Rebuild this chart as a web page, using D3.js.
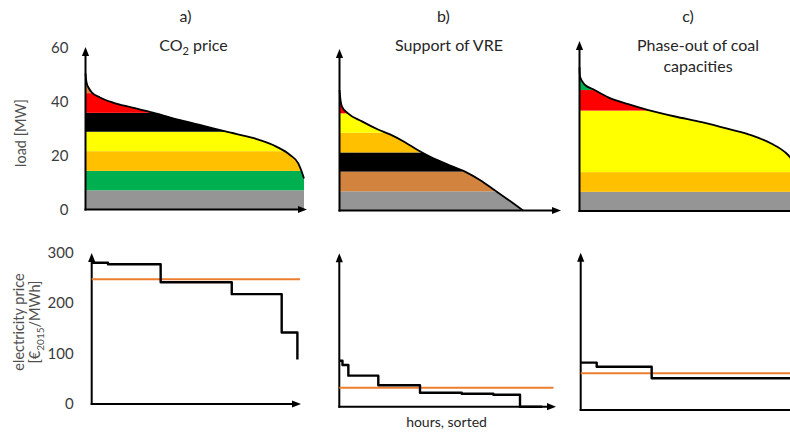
<!DOCTYPE html>
<html>
<head>
<meta charset="utf-8">
<script src="https://cdn.jsdelivr.net/npm/d3@7"></script>
<style>
  html, body { margin: 0; padding: 0; background: #fff; }
  svg { display: block; font-family: Lato, "Open Sans", sans-serif; }
</style>
</head>
<body>
<svg id="chart" width="790" height="432"></svg>
<script>
// ---------------------------------------------------------------
// Data
// ---------------------------------------------------------------

// Load duration curves: [hour of the year (sorted), load in MW]
const loadCO2 = [[0, 50.4], [40, 47.2], [130, 45], [260, 43.3], [580, 41.5], [1100, 39.6], [1800, 37.9],
  [2700, 35.9], [3800, 33.1], [4850, 30.7], [5650, 28.8], [6750, 26.4], [7650, 23.3],
  [8200, 20.2], [8530, 17.1], [8670, 14], [8760, 11.5]];
const loadVRE = [[0, 44.6], [40, 41], [100, 38.5], [340, 36], [900, 33], [1545, 30],
  [2025, 28.2], [2625, 25.3], [3150, 22.3], [3700, 19.6], [4300, 17.2], [5030, 14.4],
  [5630, 11.3], [6240, 7.4], [6840, 3.5], [7360, 0]];
const loadCoal = [[0, 53.2], [20, 49.7], [220, 46.7], [550, 45.1], [1155, 42.1], [1955, 39.6],
  [2760, 37.4], [3830, 35], [4900, 32.9], [5965, 30.4], [6905, 28], [7705, 24.9],
  [8240, 21.8], [8440, 19.9], [8620, 17], [8760, 13]];

// Merit-order stack: [technology, upper edge of its block in MW], bottom to top
const stackCO2 = [["nuclear", 7.1], ["biomass", 14.3], ["gasCC", 21.6], ["gasST", 28.8],
  ["hardCoal", 35.8], ["oil", 43.1], ["lignite", 60]];
const stackVRE = [["nuclear", 7.1], ["lignite", 14.4], ["hardCoal", 21.5], ["gasCC", 28.8],
  ["gasST", 36], ["oil", 60]];
const stackCoal = [["nuclear", 7.1], ["gasCC", 14.4], ["gasST", 37.2], ["oil", 44.8],
  ["biomass", 60]];

// Electricity price duration: [hour where the level starts, EUR2015/MWh]
const priceCO2 = [[0, 280], [685, 277], [2900, 241.5], [5890, 217.8], [7990, 141.9], [8650, 88]];
const priceVRE = [[0, 90], [130, 81.6], [370, 60.7], [1595, 41.9], [3300, 27.4],
  [5005, 25.4], [6300, 23.5], [7390, 0], [8300, 0]];
const priceCoal = [[0, 90.3], [655, 82.6], [2905, 60.5], [8760, 60.5]];

// Average price over the year (horizontal line)
const avgCO2 = 247.4;
const avgVRE = 37.2;
const avgCoal = 70;

const loadTicks = [0, 20, 40, 60];
const priceTicks = [0, 100, 200, 300];
const panelLetters = ["a)", "b)", "c)"];

// ---------------------------------------------------------------
// Styling and layout
// ---------------------------------------------------------------
const techColor = {
  nuclear: "#959595",
  biomass: "#00b050",
  gasCC: "#ffc000",
  gasST: "#ffff00",
  hardCoal: "#000000",
  oil: "#ff0000",
  lignite: "#d2843e"
};
const HOURS = 8760;
const tickColor = "#3b3b3b";
const titleColor = "#262626";
const labelColor = "#505050";

const svg = d3.select("#chart");

// Upper row: load duration curves with the dispatch stack
const topPanels = [
  { load: loadCO2, stack: stackCO2, x0: 85.5, x1: 304, y0: 209.5, yTip: 47, xTip: 307 },
  { load: loadVRE, stack: stackVRE, x0: 339.5, x1: 558, y0: 210.5, yTip: 49, xTip: 561 },
  { load: loadCoal, stack: stackCoal, x0: 579.5, x1: 798, y0: 211, yTip: 41, xTip: 805 }
];

// Lower row: price duration curves
const bottomPanels = [
  { price: priceCO2, avg: avgCO2, x0: 91.7, x1: 300, y0: 404, y300: 252.7, yTip: 253, xTip: 301 },
  { price: priceVRE, avg: avgVRE, x0: 339.3, x1: 553.5, y0: 406.7, y300: 253.3, yTip: 253.3, xTip: 556 },
  { price: priceCoal, avg: avgCoal, x0: 580.7, x1: 794.7, y0: 410, y300: 252.7, yTip: 252.7, xTip: 800 }
];

// Axis line with a filled triangular head
function arrowAxis(g, x1, y1, x2, y2) {
  const ang = Math.atan2(y2 - y1, x2 - x1);
  const len = 9, half = 3.6;
  const bx = x2 - len * Math.cos(ang), by = y2 - len * Math.sin(ang);
  g.append("line")
    .attr("x1", x1).attr("y1", y1)
    .attr("x2", bx + 2 * Math.cos(ang)).attr("y2", by + 2 * Math.sin(ang))
    .attr("stroke", "#000").attr("stroke-width", 2);
  const px = -Math.sin(ang) * half, py = Math.cos(ang) * half;
  g.append("path")
    .attr("d", `M${x2},${y2}L${bx + px},${by + py}L${bx - px},${by - py}Z`)
    .attr("fill", "#000");
}

// ---------------------------------------------------------------
// Upper row
// ---------------------------------------------------------------
topPanels.forEach((p, i) => {
  const x = d3.scaleLinear().domain([0, HOURS]).range([p.x0, p.x1]);
  const y = d3.scaleLinear().domain([0, 60]).range([p.y0, p.y0 - 162]);
  const g = svg.append("g");

  const area = d3.area()
    .x(d => x(d[0])).y0(y(0)).y1(d => y(d[1]))
    .curve(d3.curveMonotoneX);
  const clipId = "under-curve-" + i;
  svg.append("clipPath").attr("id", clipId)
    .append("path").attr("d", area(p.load));

  // stacked technology blocks, cut by the load curve
  const blocks = g.append("g").attr("clip-path", `url(#${clipId})`);
  p.stack.forEach((s, k) => {
    const lo = k === 0 ? 0 : p.stack[k - 1][1];
    blocks.append("rect")
      .attr("x", x(0)).attr("width", x(HOURS) - x(0))
      .attr("y", y(s[1])).attr("height", y(lo) - y(s[1]))
      .attr("fill", techColor[s[0]]);
  });

  // load curve outline
  g.append("path")
    .attr("d", d3.line().x(d => x(d[0])).y(d => y(d[1])).curve(d3.curveMonotoneX)(p.load))
    .attr("fill", "none").attr("stroke", "#000").attr("stroke-width", 1.8);

  arrowAxis(g, p.x0, p.y0 + 1, p.x0, p.yTip);
  arrowAxis(g, p.x0 - 1, p.y0, p.xTip, p.y0);

  if (i === 0) {
    const ax = g.append("g")
      .attr("transform", `translate(${p.x0},0)`)
      .call(d3.axisLeft(y).tickValues(loadTicks).tickSize(0).tickPadding(17));
    ax.select(".domain").remove();
    ax.selectAll("text")
      .attr("font-family", "Lato, sans-serif").attr("font-size", 15)
      .attr("fill", tickColor);
  }
});

// ---------------------------------------------------------------
// Lower row
// ---------------------------------------------------------------
bottomPanels.forEach((p, i) => {
  const x = d3.scaleLinear().domain([0, HOURS]).range([p.x0, p.x1]);
  const y = d3.scaleLinear().domain([0, 300]).range([p.y0, p.y300]);
  const g = svg.append("g");

  arrowAxis(g, p.x0, p.y0 + 1, p.x0, p.yTip);
  arrowAxis(g, p.x0 - 1, p.y0, p.xTip, p.y0);

  // yearly average price
  g.append("line")
    .attr("x1", x(0)).attr("x2", x(HOURS))
    .attr("y1", y(p.avg)).attr("y2", y(p.avg))
    .attr("stroke", "#ed7d31").attr("stroke-width", 2);

  // hourly price, sorted
  g.append("path")
    .attr("d", d3.line().x(d => x(d[0])).y(d => y(d[1])).curve(d3.curveStepAfter)(p.price))
    .attr("fill", "none").attr("stroke", "#000").attr("stroke-width", 2.4)
    .attr("stroke-linejoin", "round");

  if (i === 0) {
    const ax = g.append("g")
      .attr("transform", `translate(${p.x0},0)`)
      .call(d3.axisLeft(y).tickValues(priceTicks).tickSize(0).tickPadding(18));
    ax.select(".domain").remove();
    ax.selectAll("text")
      .attr("font-family", "Lato, sans-serif").attr("font-size", 15)
      .attr("fill", tickColor);
  }
});

// ---------------------------------------------------------------
// Texts
// ---------------------------------------------------------------
const letterX = [185.5, 443.5, 688];
panelLetters.forEach((t, i) => {
  svg.append("text").attr("x", letterX[i]).attr("y", 22)
    .attr("text-anchor", "middle").attr("font-size", 16).attr("fill", titleColor)
    .text(t);
});

// scenario titles
const t1 = svg.append("text").attr("x", 193.5).attr("y", 51)
  .attr("text-anchor", "middle").attr("font-size", 16).attr("fill", titleColor);
t1.append("tspan").text("CO");
t1.append("tspan").attr("font-size", 11).attr("dy", 4).text("2");
t1.append("tspan").attr("dy", -4).text(" price");

svg.append("text").attr("x", 449).attr("y", 51)
  .attr("text-anchor", "middle").attr("font-size", 16).attr("fill", titleColor)
  .text("Support of VRE");

svg.append("text").attr("x", 698).attr("y", 51)
  .attr("text-anchor", "middle").attr("font-size", 16).attr("fill", titleColor)
  .text("Phase-out of coal");
svg.append("text").attr("x", 698).attr("y", 72)
  .attr("text-anchor", "middle").attr("font-size", 16).attr("fill", titleColor)
  .text("capacities");

// axis titles
svg.append("text")
  .attr("transform", "translate(25.5,133) rotate(-90)")
  .attr("text-anchor", "middle").attr("font-size", 14.5).attr("fill", labelColor)
  .text("load [MW]");

svg.append("text")
  .attr("transform", "translate(24,322) rotate(-90)")
  .attr("text-anchor", "middle").attr("font-size", 14.5).attr("fill", labelColor)
  .text("electricity price");

const unit = svg.append("text")
  .attr("transform", "translate(40,322) rotate(-90)")
  .attr("text-anchor", "middle").attr("font-size", 14.5).attr("fill", labelColor);
unit.append("tspan").text("[€");
unit.append("tspan").attr("font-size", 10).attr("dy", 3.5).text("2015");
unit.append("tspan").attr("dy", -3.5).text("/MWh]");

svg.append("text").attr("x", 446.5).attr("y", 427)
  .attr("text-anchor", "middle").attr("font-size", 14).attr("fill", titleColor)
  .text("hours, sorted");
</script>
</body>
</html>
